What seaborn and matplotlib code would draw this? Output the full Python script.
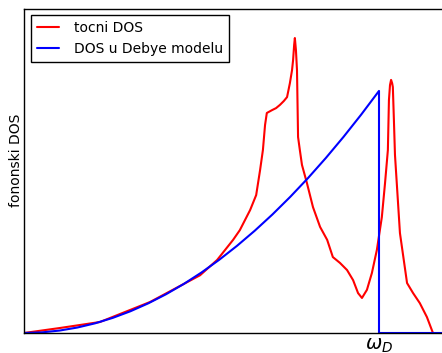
import matplotlib
matplotlib.use("Agg")
import matplotlib.pyplot as plt
import seaborn as sns
import pandas as pd

# ---- data (omega in units of omega_D) ----
red_w = [0.0, 0.101, 0.214, 0.355, 0.496, 0.544, 0.589, 0.608, 0.637, 0.654,
         0.665, 0.673, 0.679, 0.684, 0.699, 0.710, 0.721, 0.732, 0.741, 0.749,
         0.755, 0.758, 0.761, 0.763, 0.766, 0.769, 0.772, 0.777, 0.783, 0.797,
         0.814, 0.834, 0.854, 0.870, 0.890, 0.910, 0.927, 0.941, 0.952, 0.966,
         0.980, 0.994, 1.008, 1.017, 1.025, 1.028, 1.031, 1.034, 1.037, 1.039,
         1.042, 1.045, 1.059, 1.079, 1.096, 1.115, 1.135, 1.152]
red_g = [0.0, 0.0154, 0.0339, 0.0955, 0.178, 0.225, 0.287, 0.317, 0.379, 0.425,
         0.502, 0.564, 0.641, 0.678, 0.687, 0.693, 0.703, 0.715, 0.727, 0.770,
         0.810, 0.841, 0.888, 0.909, 0.872, 0.810, 0.604, 0.564, 0.518, 0.462,
         0.388, 0.327, 0.287, 0.234, 0.216, 0.194, 0.163, 0.123, 0.108, 0.133,
         0.185, 0.256, 0.357, 0.462, 0.564, 0.718, 0.764, 0.780, 0.770, 0.758,
         0.656, 0.549, 0.308, 0.154, 0.123, 0.092, 0.049, 0.0]

blue_w = [0.0, 0.05, 0.10, 0.15, 0.20, 0.25, 0.30, 0.35, 0.40, 0.45, 0.50,
          0.55, 0.60, 0.65, 0.70, 0.75, 0.80, 0.85, 0.90, 0.95, 1.00,
          1.00, 1.25]
blue_g = [0.0, 0.0019, 0.0075, 0.0168, 0.0298, 0.0466, 0.0671, 0.0914, 0.1194,
          0.1511, 0.1865, 0.2257, 0.2686, 0.3152, 0.3655, 0.4196, 0.4774,
          0.5390, 0.6043, 0.6733, 0.746, 0.0, 0.0]

labels = ["tocni DOS", "DOS u Debye modelu"]
xtick_pos = [1.0]
xtick_labels = [r"$\omega_D$"]
ylabel = "fononski DOS"

df_red = pd.DataFrame({"w": red_w, "g": red_g})
df_blue = pd.DataFrame({"w": blue_w, "g": blue_g})

sns.set_style("white")
plt.rcParams["font.family"] = ["DejaVu Sans"]
plt.rcParams["text.color"] = "black"
plt.rcParams["axes.labelcolor"] = "black"
plt.rcParams["xtick.color"] = "black"

fig = plt.figure(figsize=(4.42, 3.53), dpi=100)
W, H = 442.0, 353.0
left_px, right_px, top_px, bot_px = 24.0, 450.0, 8.5, 333.0
ax = fig.add_axes([left_px / W, (H - bot_px) / H,
                   (right_px - left_px) / W, (bot_px - top_px) / H])

sns.lineplot(data=df_red, x="w", y="g", ax=ax, color="red", lw=1.5,
             sort=False, estimator=None, label=labels[0])
sns.lineplot(data=df_blue, x="w", y="g", ax=ax, color="blue", lw=1.5,
             sort=False, estimator=None, label=labels[1])

ax.set_xlim(0, 1.2)
ax.set_ylim(0, 1.0)
ax.set_yticks([])
ax.set_xticks(xtick_pos)
ax.set_xticklabels(xtick_labels, fontsize=14, color="black")
ax.tick_params(axis="x", length=0, pad=2.5)
ax.set_xlabel("")
ax.set_ylabel(ylabel, fontsize=10, color="black")
ax.yaxis.set_label_coords(-0.003, 0.533)

for s in ["top", "left", "bottom", "right"]:
    ax.spines[s].set_color("black")
    ax.spines[s].set_linewidth(1.0)

leg = ax.legend(loc="upper left", fontsize=10, fancybox=False, frameon=True,
                edgecolor="black", framealpha=1, handlelength=1.6,
                handletextpad=1.1, borderaxespad=0.5, borderpad=0.4,
                labelspacing=0.5)
leg.get_frame().set_linewidth(1.0)
for t in leg.get_texts():
    t.set_color("black")

fig.savefig("out.png", dpi=100)
